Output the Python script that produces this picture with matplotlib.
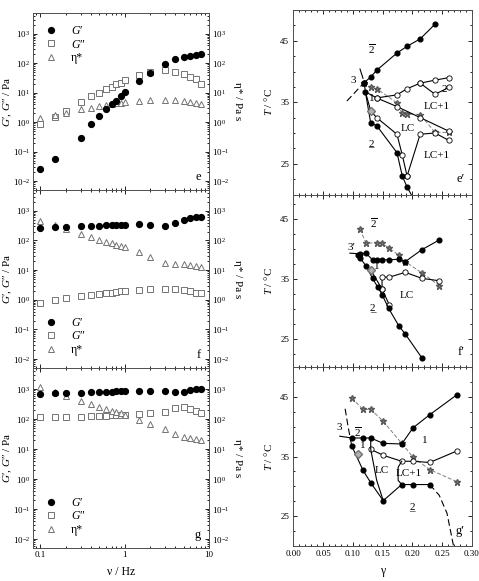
import numpy as np
import matplotlib
matplotlib.use("Agg")
import matplotlib.pyplot as plt
from matplotlib.ticker import (LogLocator, LogFormatterMathtext, FuncFormatter, MultipleLocator,
                               NullFormatter, FixedLocator)

plt.rcParams['font.family'] = ['Liberation Serif', 'DejaVu Serif']
plt.rcParams['mathtext.fontset'] = 'custom'
plt.rcParams['mathtext.rm'] = 'Liberation Serif'
plt.rcParams['mathtext.it'] = 'Liberation Serif:italic'
plt.rcParams['mathtext.bf'] = 'Liberation Serif:bold'
plt.rcParams['font.size'] = 7.5

nan = np.nan
freq = [0.1, 0.15, 0.2, 0.3, 0.4, 0.5, 0.6, 0.7, 0.8, 0.9, 1, 1.5, 2, 3, 4, 5, 6, 7, 8]
decades = [1e-2, 1e-1, 1e0, 1e1, 1e2, 1e3]

# panel e
e_G1 = [0.025, 0.055, nan, 0.28, 0.85, 1.6, 2.9, 4.0, 5.3, 7.5, 10.5, 25, 45, 95, 135, 160, 180, 190, 200]
e_G2 = [0.85, 1.55, 2.4, 4.8, 7.7, 10, 13, 16, 19, 22, 26, 40, 50, 58, 52, 42, 35, 30, 20]
e_eta = [1.35, 1.7, 2.0, 2.7, 3.1, 3.4, 3.7, 4.0, 4.3, 4.5, 4.7, 5.2, 5.5, 5.8, 5.7, 5.4, 5.0, 4.5, 4.2]
# panel f
f_G1 = [260, 280, 290, 300, 310, 315, 320, 325, 330, 335, 340, 350, 330, 300, 390, 490, 550, 600, 620]
f_G2 = [0.8, 1.0, 1.15, 1.35, 1.45, 1.55, 1.65, 1.75, 1.85, 1.95, 2.0, 2.2, 2.3, 2.3, 2.25, 2.1, 1.95, 1.75, 1.65]
f_eta = [450, 320, 250, 170, 130, 105, 90, 80, 70, 65, 58, 40, 28, 18, 16, 15.5, 14.5, 13.5, 12.5]
# panel g
g_G1 = [700, 720, 730, 760, 780, 800, 810, 820, 830, 835, 840, 850, 860, 860, 800, 780, 900, 980, 1000]
g_G2 = [115, 115, 118, 120, 122, 125, 130, 135, 138, 140, 138, 150, 155, 175, 230, 250, 210, 180, 160]
g_eta = [1150, 780, 600, 400, 310, 250, 215, 190, 170, 155, 140, 92, 70, 46, 32, 26, 24, 22, 20]

# phase diagrams (gamma, T / degC)
ep_up_g = [0.119, 0.130, 0.140, 0.174, 0.191, 0.213, 0.238]
ep_up_T = [38.2, 39.1, 40.2, 43.0, 44.1, 45.3, 47.7]
ep_low_g = [0.119, 0.121, 0.130, 0.140, 0.174, 0.183, 0.191, 0.198]
ep_low_T = [38.2, 36.7, 31.6, 31.2, 26.8, 23.0, 21.2, 20.0]
ep_o1_g = [0.140, 0.174, 0.191, 0.213, 0.238, 0.261]
ep_o1_T = [35.7, 36.2, 37.2, 38.1, 38.6, 39.0]
ep_o2_g = [0.213, 0.238, 0.261]
ep_o2_T = [38.1, 36.3, 37.4]
ep_o3_g = [0.121, 0.140, 0.174, 0.213, 0.261]
ep_o3_T = [36.7, 35.7, 34.3, 32.5, 30.3]
ep_o4_g = [0.121, 0.130, 0.140, 0.174, 0.183, 0.191]
ep_o4_T = [36.7, 33.6, 32.5, 29.8, 26.4, 23.0]
ep_o5_g = [0.191, 0.213, 0.238, 0.261]
ep_o5_T = [23.0, 29.8, 30.0, 28.8]
ep_st_g = [0.119, 0.130, 0.140, 0.174, 0.182, 0.191, 0.213, 0.238, 0.261]
ep_st_T = [38.2, 37.4, 37.2, 34.9, 33.3, 33.1, 33.0, 30.1, 30.1]
ep_dia = (0.130, 33.6)
ep_d1_g = [0.090, 0.119]
ep_d1_T = [35.2, 38.2]
ep_d2_g = [0.112, 0.117]
ep_d2_T = [40.4, 38.9]

fp_low_g = [0.109, 0.112, 0.122, 0.133, 0.142, 0.149, 0.160, 0.177, 0.188, 0.216]
fp_low_T = [39.0, 38.5, 37.2, 35.1, 33.6, 32.4, 30.1, 27.2, 25.8, 21.8]
fp_up_g = [0.112, 0.122, 0.133, 0.141, 0.149, 0.161, 0.177, 0.188, 0.216, 0.245]
fp_up_T = [39.2, 39.3, 38.2, 38.2, 38.2, 38.2, 38.3, 37.9, 39.9, 41.5]
fp_o1_g = [0.149, 0.149, 0.161, 0.188, 0.216, 0.245]
fp_o1_T = [33.3, 35.3, 35.3, 36.1, 35.1, 34.7]
fp_o2_g = [0.130, 0.149, 0.161]
fp_o2_T = [36.5, 33.3, 30.7]
fp_st_g = [0.112, 0.122, 0.141, 0.149, 0.161, 0.177, 0.188, 0.216, 0.245]
fp_st_T = [43.3, 41.0, 41.0, 41.0, 40.1, 39.0, 37.9, 36.0, 33.9]
fp_dia = (0.130, 36.5)
fp_3_g = [0.095, 0.112]
fp_3_T = [39.3, 39.2]

gp_up_g = [0.098, 0.117, 0.130, 0.151, 0.182, 0.201, 0.229, 0.274]
gp_up_T = [38.1, 38.1, 38.1, 37.2, 37.1, 39.8, 42.0, 45.3]
gp_low_g = [0.098, 0.117, 0.130, 0.151, 0.182, 0.201, 0.229]
gp_low_T = [36.8, 32.7, 30.6, 27.6, 30.3, 30.3, 30.3]
gp_end_g = [0.229, 0.245, 0.258, 0.269]
gp_end_T = [30.3, 28.5, 25.5, 20.0]
gp_d3_g = [0.087, 0.092, 0.098]
gp_d3_T = [43.0, 40.0, 36.8]
gp_3_g = [0.078, 0.098]
gp_3_T = [38.4, 38.1]
gp_o_g = [0.130, 0.151, 0.182, 0.201, 0.229, 0.274]
gp_o_T = [36.2, 35.2, 34.2, 34.2, 34.0, 35.9]
gp_lc_g = [0.130, 0.130, 0.140, 0.151]
gp_lc_T = [38.1, 36.2, 31.0, 27.6]
gp_br_g = [0.182, 0.176, 0.176, 0.182]
gp_br_T = [34.2, 33.2, 31.0, 30.3]
gp_st_g = [0.098, 0.117, 0.130, 0.151, 0.182, 0.201, 0.229, 0.274]
gp_st_T = [44.8, 42.9, 42.9, 40.9, 37.2, 34.9, 32.8, 30.8]
gp_dia = (0.108, 35.5)

W, H = 479, 581
fig = plt.figure(figsize=(W / 100, H / 100), dpi=100)

UP2 = "$\\overline{2}$"


def box(x0, x1, y0, y1):
    return [x0 / W, 1 - y1 / H, (x1 - x0) / W, (y1 - y0) / H]


def left_panel(rect, G1, G2, eta, tag, legloc, last=False):
    ax = fig.add_axes(rect)
    ax.plot(freq, G1, 'o', color='k', ms=4.2, label="$G$′", zorder=3)
    ax.plot(freq, G2, 's', mfc='white', mec='0.45', mew=0.7, ms=3.8, label="$G$″", zorder=2)
    ax.plot(freq, eta, '^', mfc='white', mec='0.45', mew=0.7, ms=4.0, label="η*", zorder=2)
    ax.set_xscale('log')
    ax.set_yscale('log')
    ax.set_xlim(0.082, 10)
    ax.set_ylim(10 ** -2.3, 10 ** 3.7)
    ax.yaxis.set_major_locator(FixedLocator(decades))
    ax.yaxis.set_minor_locator(LogLocator(base=10, subs=np.arange(2, 10), numticks=10))
    ax.yaxis.set_major_formatter(LogFormatterMathtext())
    ax.yaxis.set_minor_formatter(NullFormatter())
    ax.xaxis.set_major_locator(FixedLocator([0.1, 1, 10]))
    ax.xaxis.set_major_formatter(FuncFormatter(lambda v, p: f"{v:g}"))
    ax.xaxis.set_minor_formatter(NullFormatter())
    ax.tick_params(which='both', direction='in', top=True, right=True, labelright=True,
                   labelsize=6.5, width=0.6, pad=2)
    ax.tick_params(which='major', length=3)
    ax.tick_params(which='minor', length=1.6)
    if not last:
        ax.tick_params(labelbottom=False)
    for s in ax.spines.values():
        s.set_linewidth(0.7)
        s.set_color('0.3')
    ax.set_ylabel("$G$′, $G$″ / Pa", fontsize=8)
    ax.yaxis.set_label_coords(-0.108, 0.5)
    ax.text(0.955, 0.04, tag, transform=ax.transAxes, fontsize=9, ha='right', va='bottom')
    ax.legend(loc=legloc, frameon=False, fontsize=8.5, handlelength=1.0,
              handletextpad=1.2, labelspacing=0.15, borderaxespad=0.6)
    ax.text(1.16, 0.5, "η* / Pa s", transform=ax.transAxes, rotation=270,
            fontsize=8, ha='center', va='center')
    return ax


ax_e = left_panel(box(33, 209, 13, 190), e_G1, e_G2, e_eta, 'e', 'upper left')
ax_f = left_panel(box(33, 209, 190, 368), f_G1, f_G2, f_eta, 'f', 'lower left')
ax_g = left_panel(box(33, 209, 368, 548), g_G1, g_G2, g_eta, 'g', 'lower left', last=True)
ax_g.set_xlabel("ν / Hz", fontsize=8.5, labelpad=5)


def right_panel(rect, ylim, tag, last=False):
    ax = fig.add_axes(rect)
    ax.set_xlim(0, 0.30)
    ax.set_ylim(*ylim)
    ax.yaxis.set_major_locator(FixedLocator([25, 35, 45]))
    ax.yaxis.set_minor_locator(MultipleLocator(2.5))
    ax.xaxis.set_major_locator(FixedLocator([0, 0.05, 0.10, 0.15, 0.20, 0.25, 0.30]))
    ax.xaxis.set_minor_locator(MultipleLocator(0.01))
    ax.xaxis.set_major_formatter(FuncFormatter(lambda v, p: f"{v:.2f}"))
    ax.tick_params(which='both', direction='in', top=True, right=True, labelsize=6.5,
                   width=0.6, pad=3)
    ax.tick_params(which='major', length=3)
    ax.tick_params(which='minor', length=1.6)
    if not last:
        ax.tick_params(labelbottom=False)
    for s in ax.spines.values():
        s.set_linewidth(0.7)
        s.set_color('0.3')
    ax.set_ylabel("$T$ / °C", fontsize=8)
    ax.yaxis.set_label_coords(-0.11, 0.5)
    ax.text(0.96, 0.05, tag, transform=ax.transAxes, fontsize=9, ha='right', va='bottom')
    return ax


def labels(ax, items):
    for s, x, y in items:
        if s == "_2":
            # underlined two
            ax.text(x, y - 0.8, "2", fontsize=8, ha='center', va='baseline')
            ax.text(x, y - 0.8, "_", fontsize=8, ha='center', va='baseline')
        else:
            ax.text(x, y, s, fontsize=8, ha='center', va='center')


lw = 0.8
dot = dict(marker='o', color='k', ms=3.4, lw=lw)
opn = dict(marker='o', mfc='white', mec='k', mew=0.6, color='k', ms=3.8, lw=lw)
star = dict(marker='*', color='0.5', mfc='0.5', mec='0.35', ms=4.6, lw=0.7, ls=(0, (4, 2)))
dia = dict(marker='D', mfc='0.7', mec='0.45', ms=4.5, ls='none')

# e'
ax = right_panel(box(293.3, 472, 10, 194.5), (20, 50), "e′")
ax.plot(ep_st_g, ep_st_T, **star, zorder=2)
ax.plot(ep_o1_g, ep_o1_T, **opn)
ax.plot(ep_o2_g, ep_o2_T, **opn)
ax.plot(ep_o3_g, ep_o3_T, **opn, markevery=slice(1, None))
ax.plot(ep_o4_g, ep_o4_T, **opn, markevery=slice(2, None))
ax.plot(ep_o5_g, ep_o5_T, **opn)
ax.plot(ep_up_g, ep_up_T, **dot)
ax.plot(ep_low_g, ep_low_T, **dot, markevery=slice(0, -1))
ax.plot(ep_d1_g, ep_d1_T, color='k', lw=lw, ls=(0, (6, 3)))
ax.plot(ep_d2_g, ep_d2_T, color='k', lw=lw)
ax.plot(*ep_dia, **dia)
labels(ax, [(UP2, 0.132, 43.6), ("3", 0.101, 38.6), ("1", 0.131, 35.6),
            ("2", 0.254, 37.1), ("LC+1", 0.241, 34.3), ("LC", 0.192, 30.8),
            ("_2", 0.131, 28.6), ("LC+1", 0.241, 26.3)])

# f'
ax = right_panel(box(293.3, 472, 194.5, 367), (20.3, 49.1), "f′")
ax.plot(fp_st_g, fp_st_T, **star, zorder=2)
ax.plot(fp_o1_g, fp_o1_T, **opn)
ax.plot(fp_o2_g, fp_o2_T, **opn, markevery=slice(1, None))
ax.plot(fp_up_g, fp_up_T, **dot)
ax.plot(fp_low_g, fp_low_T, **dot)
ax.plot(fp_3_g, fp_3_T, color='k', lw=lw)
ax.plot(*fp_dia, **dia)
labels(ax, [(UP2, 0.135, 44.3), ("3′", 0.098, 40.2), ("1", 0.141, 37.0),
            ("LC", 0.191, 32.2), ("_2", 0.133, 30.4)])

# g'
ax = right_panel(box(293.3, 472, 367, 546), (20, 50), "g′", last=True)
ax.plot(gp_st_g, gp_st_T, **star, zorder=2)
ax.plot(gp_o_g, gp_o_T, **opn)
ax.plot(gp_lc_g, gp_lc_T, color='k', lw=lw)
ax.plot(gp_br_g, gp_br_T, color='k', lw=lw)
ax.plot(gp_up_g, gp_up_T, **dot)
ax.plot(gp_low_g, gp_low_T, **dot)
ax.plot(gp_end_g, gp_end_T, color='k', lw=lw, ls=(0, (6, 3)))
ax.plot(gp_d3_g, gp_d3_T, color='k', lw=lw, ls=(0, (6, 3)))
ax.plot(gp_3_g, gp_3_T, color='k', lw=lw)
ax.plot(*gp_dia, **dia)
labels(ax, [("3", 0.077, 39.8), (UP2, 0.109, 39.1), ("1", 0.117, 36.8),
            ("1", 0.221, 37.7), ("LC", 0.149, 32.7), ("LC+1", 0.194, 32.1),
            ("_2", 0.199, 26.8)])
ax.set_xlabel("γ", fontsize=8.5, labelpad=5)

fig.savefig("out.png", dpi=100)
